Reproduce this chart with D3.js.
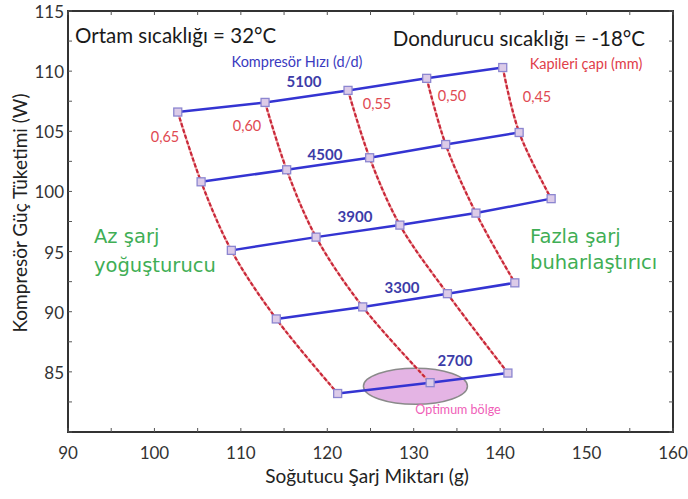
<!DOCTYPE html>
<html>
<head>
<meta charset="utf-8">
<script src="https://cdn.jsdelivr.net/npm/d3@7"></script>
<style>
  body { margin: 0; background: #fff; }
  svg { font-family: Lato, "Open Sans", sans-serif; }
</style>
</head>
<body>
<svg id="chart" width="688" height="499"></svg>
<script>
// compressor speeds (d/d) and capillary diameters (mm)
const speeds = [5100, 4500, 3900, 3300, 2700];
const diameters = ["0,65", "0,60", "0,55", "0,50", "0,45"];

// charge (g) and power (W) for each speed, one entry per diameter
const charge5100 = [102.7, 112.8, 122.4, 131.5, 140.3];
const power5100  = [106.6, 107.4, 108.4, 109.4, 110.3];
const charge4500 = [105.4, 115.3, 124.9, 133.7, 142.2];
const power4500  = [100.8, 101.8, 102.8, 103.9, 104.9];
const charge3900 = [108.9, 118.7, 128.4, 137.2, 145.9];
const power3900  = [95.1, 96.2, 97.2, 98.2, 99.4];
const charge3300 = [114.1, 124.1, 133.9, 141.7];
const power3300  = [89.4, 90.4, 91.5, 92.4];
const charge2700 = [121.2, 131.9, 140.9];
const power2700  = [83.2, 84.1, 84.9];

const xTicks = [90, 100, 110, 120, 130, 140, 150, 160];
const yTicks = [85, 90, 95, 100, 105, 110, 115];

const chargeRows = [charge5100, charge4500, charge3900, charge3300, charge2700];
const powerRows = [power5100, power4500, power3900, power3300, power2700];

const margin = {top: 11, right: 15, bottom: 67, left: 68};
const width = 688 - margin.left - margin.right;
const height = 499 - margin.top - margin.bottom;

const svg = d3.select("#chart");
const g = svg.append("g")
  .attr("transform", "translate(" + margin.left + "," + margin.top + ")");

const x = d3.scaleLinear().domain([90, 160]).range([0, width]);
const y = d3.scaleLinear().domain([80, 115]).range([height, 0]);

// rows of points (one per speed)
const rows = speeds.map((s, i) => chargeRows[i].map((c, j) => ({c: c, p: powerRows[i][j], speed: s, dia: j})));
// columns (one per diameter)
const cols = diameters.map((d, j) => rows.filter(r => r[j]).map(r => r[j]));

// optimum ellipse, behind the lines
g.append("ellipse")
  .attr("cx", x(130.2)).attr("cy", y(83.8))
  .attr("rx", 52).attr("ry", 18)
  .attr("fill", "#e4b4e4")
  .attr("stroke", "#8a8a8a")
  .attr("stroke-width", 1.5);

const line = d3.line().x(d => x(d.c)).y(d => y(d.p));
const curve = d3.line().x(d => x(d.c)).y(d => y(d.p)).curve(d3.curveCatmullRom);

// capillary lines: pale line under dark red dashes
g.selectAll(".capBase").data(cols).enter().append("path")
  .attr("d", curve).attr("fill", "none")
  .attr("stroke", "#f2a8a8").attr("stroke-width", 2.2);
g.selectAll(".cap").data(cols).enter().append("path")
  .attr("d", curve).attr("fill", "none")
  .attr("stroke", "#c8283a").attr("stroke-width", 2.2)
  .attr("stroke-dasharray", "4,2");

// speed lines
g.selectAll(".speed").data(rows).enter().append("path")
  .attr("d", line).attr("fill", "none")
  .attr("stroke", "#3434d2").attr("stroke-width", 2.5);

// markers
g.selectAll(".pt").data(rows.flat()).enter().append("rect")
  .attr("x", d => x(d.c) - 4).attr("y", d => y(d.p) - 4)
  .attr("width", 8).attr("height", 8)
  .attr("fill", "#dccbe8").attr("stroke", "#8c86d0").attr("stroke-width", 1.3);

// frame
g.append("rect").attr("width", width).attr("height", height)
  .attr("fill", "none").attr("stroke", "#333").attr("stroke-width", 2);

// inward ticks, major and minor, on all four sides
const tickCol = "#555";
const xMinor = d3.range(90, 160.1, 5);
const yMinor = d3.range(80, 115.1, 2.5);
g.selectAll(".xtb").data(xMinor).enter().append("line")
  .attr("x1", d => x(d)).attr("x2", d => x(d)).attr("y1", height).attr("y2", height - 4)
  .attr("stroke", tickCol);
g.selectAll(".xtt").data(xMinor).enter().append("line")
  .attr("x1", d => x(d)).attr("x2", d => x(d)).attr("y1", 0).attr("y2", 4)
  .attr("stroke", tickCol);
g.selectAll(".ytl").data(yMinor).enter().append("line")
  .attr("y1", d => y(d)).attr("y2", d => y(d)).attr("x1", 0).attr("x2", 4)
  .attr("stroke", tickCol);
g.selectAll(".ytr").data(yMinor).enter().append("line")
  .attr("y1", d => y(d)).attr("y2", d => y(d)).attr("x1", width).attr("x2", width - 4)
  .attr("stroke", tickCol);

// tick labels
g.selectAll(".xl").data(xTicks).enter().append("text")
  .attr("x", d => x(d)).attr("y", height + 27)
  .attr("text-anchor", "middle").attr("font-size", 17).attr("fill", "#333")
  .text(d => d);
g.selectAll(".yl").data(yTicks).enter().append("text")
  .attr("x", -4).attr("y", d => y(d) + 7)
  .attr("text-anchor", "end").attr("font-size", 17).attr("fill", "#333")
  .text(d => d);

// axis titles
svg.append("text").attr("x", 367).attr("y", 483)
  .attr("text-anchor", "middle").attr("font-size", 19).attr("fill", "#222")
  .text("Soğutucu Şarj Miktarı (g)");
svg.append("text")
  .attr("transform", "translate(27,213) rotate(-90)")
  .attr("text-anchor", "middle").attr("font-size", 19).attr("fill", "#222")
  .text("Kompresör Güç Tüketimi (W)");

// conditions
svg.append("text").attr("x", 75).attr("y", 43).attr("font-size", 20.5).attr("fill", "#1a1a1a")
  .text("Ortam sıcaklığı = 32°C");
svg.append("text").attr("x", 645).attr("y", 46).attr("text-anchor", "end")
  .attr("font-size", 20.5).attr("fill", "#1a1a1a")
  .text("Dondurucu sıcaklığı = -18°C");

// speed labels
const speedLabelPos = [[304, 87], [325, 160], [355, 222], [402, 293], [455, 366]];
svg.append("text").attr("x", 297).attr("y", 67).attr("text-anchor", "middle")
  .attr("font-size", 14.5).attr("fill", "#3a3ac0").text("Kompresör Hızı (d/d)");
svg.selectAll(".sl").data(speeds).enter().append("text")
  .attr("x", (d, i) => speedLabelPos[i][0]).attr("y", (d, i) => speedLabelPos[i][1])
  .attr("text-anchor", "middle").attr("font-size", 15).attr("font-weight", "bold")
  .attr("fill", "#3c3ca8").text(d => d);

// diameter labels
const diaLabelPos = [[165, 142], [247, 131], [377, 109], [452, 101], [537, 102]];
svg.append("text").attr("x", 586).attr("y", 69).attr("text-anchor", "middle")
  .attr("font-size", 14.5).attr("fill", "#e0404a").text("Kapileri çapı (mm)");
svg.selectAll(".dl").data(diameters).enter().append("text")
  .attr("x", (d, i) => diaLabelPos[i][0]).attr("y", (d, i) => diaLabelPos[i][1])
  .attr("text-anchor", "middle").attr("font-size", 14.5).attr("fill", "#e04a52").text(d => d);

// regions
const green = "#3fae55";
const gFont = "'DejaVu Sans', Verdana, sans-serif";
svg.append("text").attr("x", 94).attr("y", 243).attr("font-size", 19.5).attr("font-family", gFont).attr("fill", green).text("Az şarj");
svg.append("text").attr("x", 94).attr("y", 272).attr("font-size", 19.5).attr("font-family", gFont).attr("fill", green).text("yoğuşturucu");
svg.append("text").attr("x", 530).attr("y", 243).attr("font-size", 19.5).attr("font-family", gFont).attr("fill", green).text("Fazla şarj");
svg.append("text").attr("x", 530).attr("y", 269).attr("font-size", 19.5).attr("font-family", gFont).attr("fill", green).text("buharlaştırıcı");

svg.append("text").attr("x", 458).attr("y", 414).attr("text-anchor", "middle")
  .attr("font-size", 12.5).attr("fill", "#f060b8").text("Optimum bölge");
</script>
</body>
</html>
